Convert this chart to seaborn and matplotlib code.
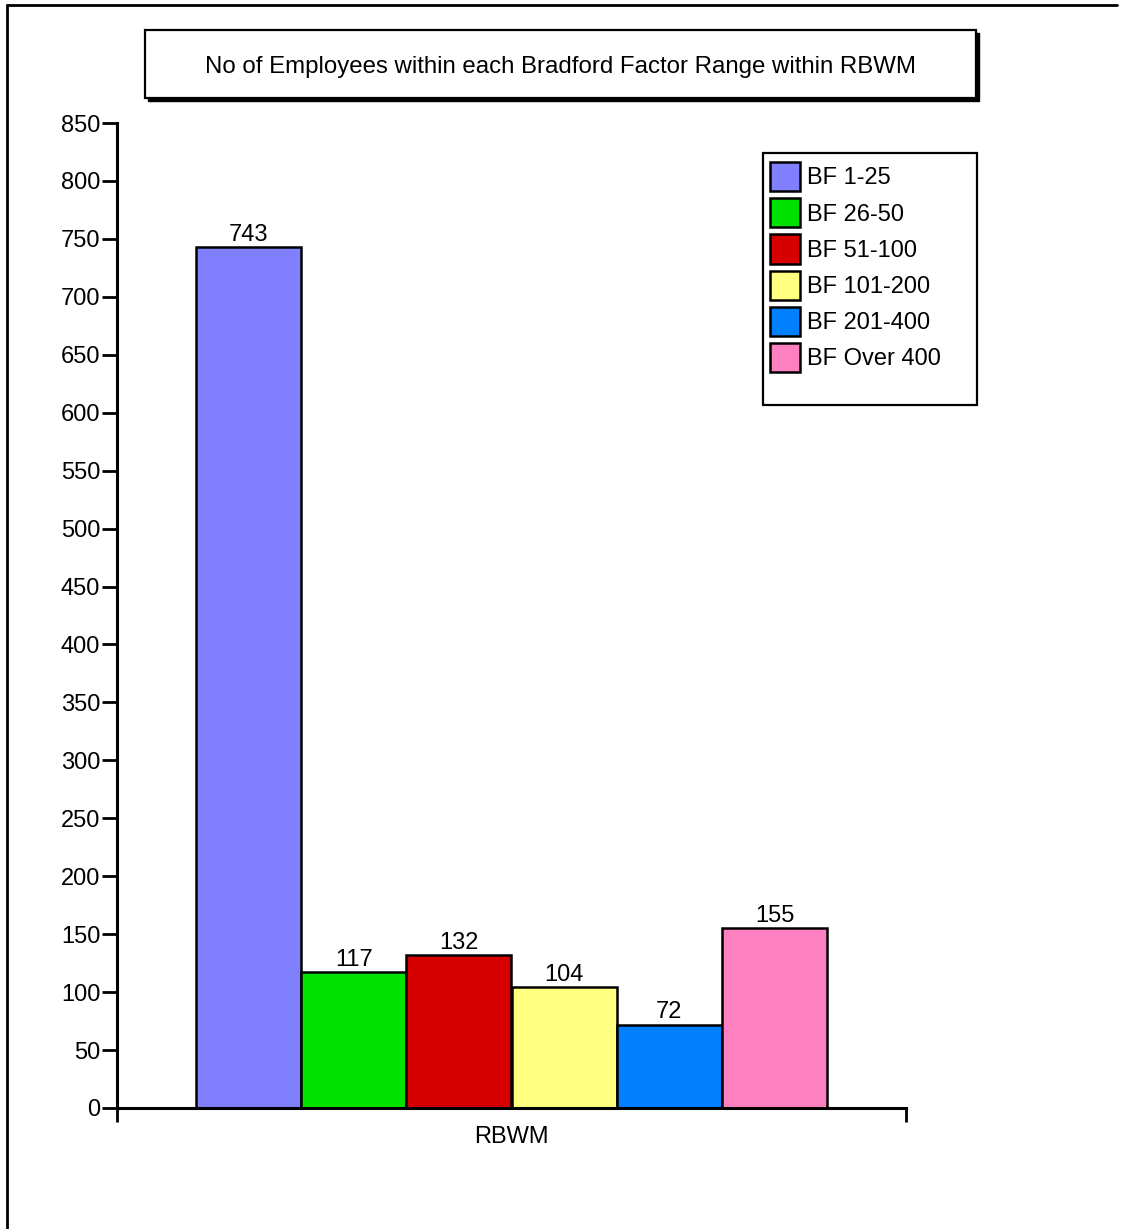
import matplotlib
matplotlib.use("Agg")
import matplotlib.pyplot as plt
from matplotlib.patches import Rectangle
from matplotlib.lines import Line2D
import pandas as pd
import seaborn as sns

# ---------------------------------------------------------------------------
# Data
# ---------------------------------------------------------------------------
GROUP = ["RBWM"]
RANGES = ["BF 1-25", "BF 26-50", "BF 51-100", "BF 101-200", "BF 201-400", "BF Over 400"]
COUNTS = [743, 117, 132, 104, 72, 155]
COLORS = ["#8080FF", "#00E100", "#D70000", "#FFFF80", "#0080FF", "#FF80C0"]
TITLE = "No of Employees within each Bradford Factor Range within RBWM"

df = pd.DataFrame({"group": GROUP * len(RANGES), "range": RANGES, "count": COUNTS})

sns.set_style("ticks", {"axes.edgecolor": "black", "text.color": "black",
                        "xtick.color": "black", "ytick.color": "black"})
plt.rcParams["font.family"] = ["Liberation Sans", "DejaVu Sans"]

W, H = 1122, 1229
fig = plt.figure(figsize=(W / 100, H / 100), dpi=100)

# axes placed in pixel terms of the reference
left, right, top, bottom = 117, 906, 123, 1108
ax = fig.add_axes([left / W, 1 - bottom / H, (right - left) / W, (bottom - top) / H])

sns.barplot(
    data=df, x="group", y="count", hue="range", hue_order=RANGES,
    palette=COLORS, width=0.8, edgecolor="black", linewidth=1.8,
    saturation=1, ax=ax,
)

for cont in ax.containers:
    ax.bar_label(cont, padding=1, fontsize=17, color="black")

ax.set_ylim(0, 850)
ax.set_xlim(-0.5, 0.5)
ax.set_yticks(range(0, 851, 50))
ax.set_xlabel("")
ax.set_ylabel("")
sns.despine(ax=ax, top=True, right=True)
for s in ["left", "bottom"]:
    ax.spines[s].set_linewidth(2.2)
    ax.spines[s].set_color("black")

ax.tick_params(axis="y", length=11, width=2, labelsize=17, pad=1, colors="black")
ax.tick_params(axis="x", which="major", length=0, labelsize=17, pad=13, colors="black")
ax.set_xticks([-0.5, 0.5], minor=True)
ax.tick_params(axis="x", which="minor", length=10, width=2, direction="out", colors="black")

# legend without its own frame; the frame is drawn to the reference size
def ax_x(px):
    return (px - left) / (right - left)

def ax_y(py):
    return (bottom - py) / (bottom - top)

leg = ax.legend(
    loc="upper left", bbox_to_anchor=(ax_x(763), ax_y(155)),
    borderaxespad=0, fontsize=17, frameon=False,
    handlelength=1.27, handleheight=1.52, handletextpad=0.3,
    labelspacing=0.3, borderpad=0.3,
)
for t in leg.get_texts():
    t.set_color("black")
for h in leg.legend_handles:
    h.set_linewidth(1.8)
ax.add_patch(Rectangle((ax_x(763), ax_y(405)), ax_x(977) - ax_x(763), ax_y(153) - ax_y(405),
                       transform=ax.transAxes, facecolor="none", edgecolor="black",
                       linewidth=1.6, clip_on=False, zorder=5))

# title box with a drop shadow
bx0, bx1, by0, by1 = 145, 976, 30, 98
fig.patches.append(Rectangle((bx0 / W + 3 / W, 1 - by1 / H - 3 / H), (bx1 - bx0) / W, (by1 - by0) / H,
                             transform=fig.transFigure, facecolor="black", edgecolor="black", zorder=1))
fig.patches.append(Rectangle((bx0 / W, 1 - by1 / H), (bx1 - bx0) / W, (by1 - by0) / H,
                             transform=fig.transFigure, facecolor="white", edgecolor="black",
                             linewidth=1.6, zorder=2))
fig.text((bx0 + bx1) / 2 / W, 1 - 67 / H, TITLE, ha="center", va="center", fontsize=17.3,
         color="black", zorder=3)

# outer page frame: top and left edges only
fig.lines.append(Line2D([7 / W, 1117 / W], [1 - 5 / H, 1 - 5 / H], transform=fig.transFigure,
                        color="black", linewidth=2))
fig.lines.append(Line2D([7 / W, 7 / W], [1 - 5 / H, 0], transform=fig.transFigure,
                        color="black", linewidth=2))

fig.savefig("out.png", dpi=100)
plt.close(fig)
